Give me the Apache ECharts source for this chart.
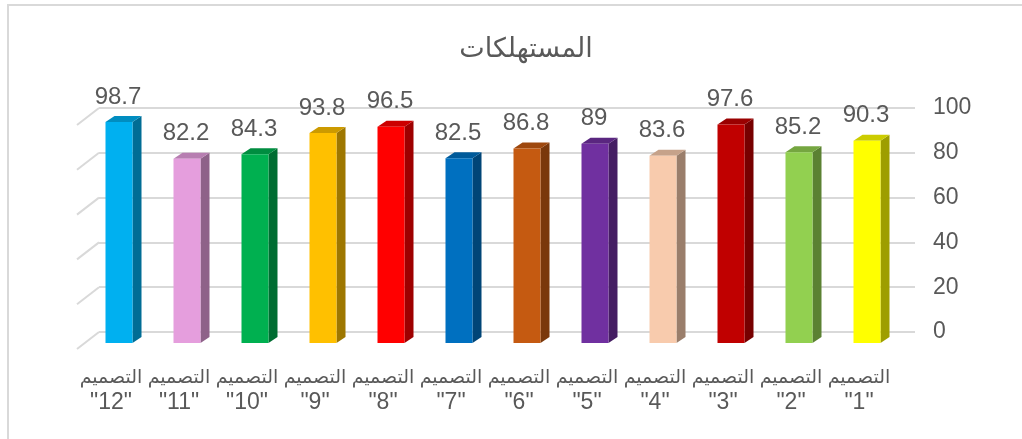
<!DOCTYPE html>
<html>
<head>
<meta charset="utf-8">
<script src="https://cdn.jsdelivr.net/npm/echarts@6/dist/echarts.min.js"></script>
<style>
html,body{margin:0;padding:0;background:#fff;}
#frame{position:absolute;left:7px;top:4px;width:1030px;height:440px;border:2px solid #d9d9d9;box-sizing:border-box;}
#chart{position:absolute;left:0;top:0;width:1022px;height:439px;}
</style>
</head>
<body>
<div id="frame"></div>
<div id="chart"></div>
<script>
const TITLE = 'المستهلكات';
const categories = ['التصميم\n"1"','التصميم\n"2"','التصميم\n"3"','التصميم\n"4"','التصميم\n"5"','التصميم\n"6"','التصميم\n"7"','التصميم\n"8"','التصميم\n"9"','التصميم\n"10"','التصميم\n"11"','التصميم\n"12"'];
const values = [90.3, 85.2, 97.6, 83.6, 89, 86.8, 82.5, 96.5, 93.8, 84.3, 82.2, 98.7];
const yTicks = [0, 20, 40, 60, 80, 100];
const barColors = ['#FFFF00','#92D050','#C00000','#F8CBAD','#7030A0','#C55A11','#0070C0','#FF0000','#FFC000','#00B050','#E59EDD','#00B0F0'];

function shade(hex, f){
  const n = parseInt(hex.slice(1),16);
  const r = Math.round(((n>>16)&255)*f), g = Math.round(((n>>8)&255)*f), b = Math.round((n&255)*f);
  return 'rgb('+r+','+g+','+b+')';
}

const FONT = '"Liberation Sans", Arial, "DejaVu Sans", sans-serif';
const TXT = '#595959';
// 3D geometry (pixels)
const FX = -14, FY = 11, W = 27, DX = 9, DY = -6;

const chart = echarts.init(document.getElementById('chart'), null, {renderer:'canvas'});
chart.setOption({
  backgroundColor: 'transparent',
  animation: false,
  title: {
    text: TITLE, left: 521, textAlign: 'center', top: 31,
    textStyle: {fontFamily: FONT, fontSize: 27, fontWeight: 'normal', color: TXT}
  },
  grid: {left: 99, right: 107, top: 108, bottom: 107},
  xAxis: {
    type: 'category', data: categories, inverse: true,
    axisLine: {show: false}, axisTick: {show: false},
    axisLabel: {
      interval: 0, margin: 33, color: TXT, fontFamily: FONT,
      padding: [0, 44, 0, 0],
      formatter: function(val){
        const p = val.split('\n');
        return '{a|' + p[0] + '}\n{b|' + p[1] + '}';
      },
      rich: {
        a: {fontFamily: FONT, fontSize: 19, lineHeight: 25, color: TXT},
        b: {fontFamily: FONT, fontSize: 23, lineHeight: 25, color: TXT}
      }
    }
  },
  yAxis: {
    type: 'value', position: 'right', min: 0, max: 100, interval: 20,
    axisLine: {show: false}, axisTick: {show: false},
    axisLabel: {margin: 18, color: TXT, fontFamily: FONT, fontSize: 23},
    splitLine: {lineStyle: {color: '#d9d9d9', width: 2}}
  },
  series: [
    {
      type: 'custom',
      data: yTicks.map(v => [0, v]),
      clip: false, silent: true, z: 1,
      renderItem: function(params, api){
        const y = api.coord([0, api.value(1)])[1];
        const x = params.coordSys.x;
        return {type: 'line', shape: {x1: x, y1: y, x2: x - 22, y2: y + 17},
                style: {stroke: '#d9d9d9', lineWidth: 2}};
      }
    },
    {
      type: 'custom',
      data: values.map((v, i) => [i, v]),
      clip: false, z: 5,
      renderItem: function(params, api){
        const i = api.value(0), v = api.value(1);
        const base = api.coord([i, 0]);
        const top = api.coord([i, v]);
        const x0 = base[0] + FX - W/2;
        const yb = base[1] + FY;
        const yt = top[1] + FY;
        const c = barColors[i];
        return {
          type: 'group',
          children: [
            {type: 'polygon', shape: {points: [[x0+W, yt],[x0+W+DX, yt+DY],[x0+W+DX, yb+DY],[x0+W, yb]]},
             style: {fill: shade(c, 0.62)}},
            {type: 'polygon', shape: {points: [[x0, yt],[x0+DX, yt+DY],[x0+W+DX, yt+DY],[x0+W, yt]]},
             style: {fill: shade(c, 0.8)}},
            {type: 'rect', shape: {x: x0, y: yt, width: W, height: yb - yt},
             style: {fill: c}},
            {type: 'text', style: {x: x0 + W/2 - 1, y: yt - 25, text: String(v),
              fill: TXT, font: '24px ' + FONT, textAlign: 'center', textVerticalAlign: 'middle'}}
          ]
        };
      }
    }
  ]
});
</script>
</body>
</html>
